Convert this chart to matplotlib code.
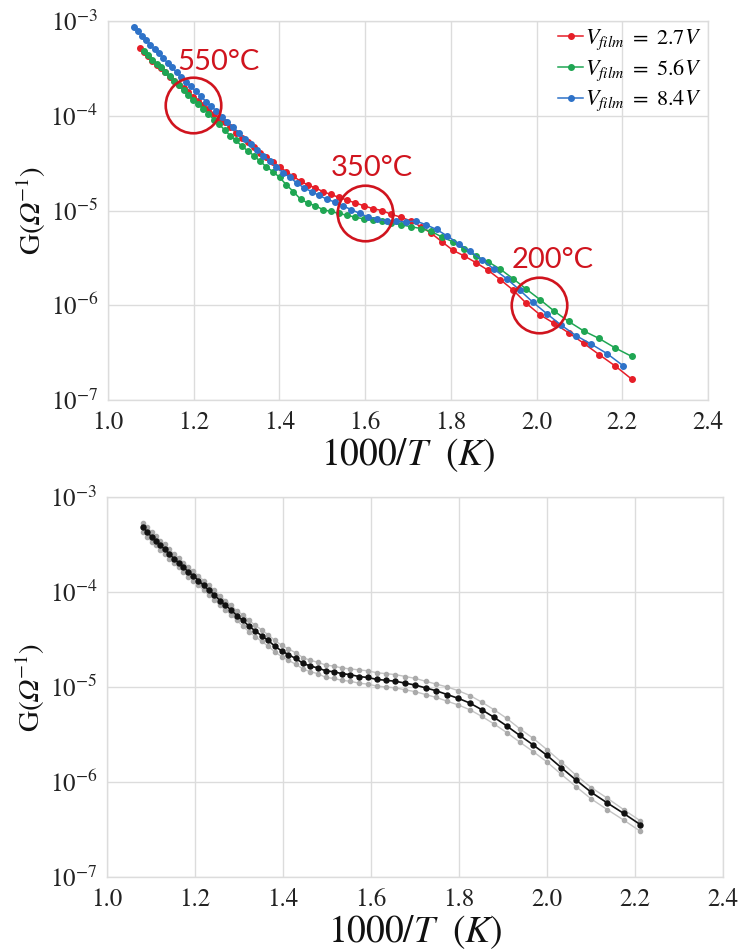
import numpy as np
import matplotlib
matplotlib.use("Agg")
import matplotlib.pyplot as plt
from matplotlib.ticker import LogLocator, LogFormatterMathtext, FixedLocator

plt.rcParams['font.family'] = ['STIXGeneral', 'DejaVu Serif']
plt.rcParams['mathtext.fontset'] = 'custom'
plt.rcParams['mathtext.rm'] = 'STIXGeneral'
plt.rcParams['mathtext.it'] = 'STIXGeneral:italic'
plt.rcParams['mathtext.bf'] = 'STIXGeneral:bold'
plt.rcParams['mathtext.cal'] = 'STIXGeneral:italic'

# temperatures (K) of the measurement points, G read as log10(G)
T_red = [930, 922, 914, 906, 898, 890, 882, 874, 866, 858, 850, 842, 834, 826, 818, 810,
         802, 794, 786, 778, 770, 762, 754, 746, 738, 730, 722, 714, 706, 698, 690, 682,
         674, 666, 658, 650, 642, 634, 626, 618, 610, 602, 594, 586, 578, 570, 562, 554,
         546, 538, 530, 522, 514, 506, 498, 490, 482, 474, 466, 458, 450]
logG_red = [-3.28, -3.33, -3.37, -3.42, -3.46, -3.50, -3.54, -3.59, -3.63, -3.67, -3.71, -3.75,
            -3.80, -3.84, -3.89, -3.93, -3.98, -4.03, -4.07, -4.12, -4.18, -4.23, -4.28, -4.33,
            -4.39, -4.44, -4.49, -4.54, -4.59, -4.64, -4.69, -4.73, -4.76, -4.80, -4.83, -4.86,
            -4.89, -4.92, -4.95, -4.98, -5.00, -5.04, -5.07, -5.11, -5.17, -5.24, -5.33, -5.42,
            -5.48, -5.55, -5.63, -5.73, -5.84, -5.98, -6.10, -6.19, -6.29, -6.40, -6.52, -6.64,
            -6.78]

T_green = [922, 914, 906, 898, 890, 882, 874, 866, 858, 850, 842, 834, 826, 818, 810,
           802, 794, 786, 778, 770, 762, 754, 746, 738, 730, 722, 714, 706, 698, 690, 682,
           674, 666, 658, 650, 642, 634, 626, 618, 610, 602, 594, 586, 578, 570, 562, 554,
           546, 538, 530, 522, 514, 506, 498, 490, 482, 474, 466, 458, 450]
logG_green = [-3.32, -3.36, -3.41, -3.45, -3.49, -3.54, -3.58, -3.63, -3.68, -3.73, -3.78,
              -3.83, -3.88, -3.93, -3.98, -4.04, -4.09, -4.15, -4.21, -4.26, -4.32, -4.37,
              -4.42, -4.48, -4.54, -4.59, -4.65, -4.73, -4.80, -4.88, -4.92, -4.95, -4.99,
              -5.01, -5.03, -5.05, -5.07, -5.09, -5.10, -5.11, -5.13, -5.15, -5.17, -5.19,
              -5.22, -5.28, -5.33, -5.41, -5.48, -5.54, -5.62, -5.72, -5.83, -5.94, -6.06,
              -6.17, -6.27, -6.35, -6.45, -6.54]

T_blue = [942, 934, 926, 918, 910, 902, 894, 886, 878, 870, 862, 854, 846, 838, 830, 822,
          814, 806, 798, 790, 782, 774, 766, 758, 750, 742, 734, 726, 718, 710, 702, 694,
          686, 678, 670, 662, 654, 646, 638, 630, 622, 614, 606, 598, 590, 582, 574, 566,
          558, 550, 542, 534, 526, 518, 510, 502, 494, 486, 478, 470, 462, 454]
logG_blue = [-3.06, -3.11, -3.16, -3.20, -3.25, -3.30, -3.34, -3.39, -3.44, -3.49, -3.54,
             -3.59, -3.64, -3.69, -3.74, -3.79, -3.85, -3.90, -3.95, -4.01, -4.07, -4.12,
             -4.18, -4.24, -4.30, -4.36, -4.42, -4.48, -4.54, -4.60, -4.65, -4.71, -4.76,
             -4.80, -4.84, -4.88, -4.91, -4.95, -4.99, -5.03, -5.07, -5.09, -5.11, -5.11,
             -5.12, -5.11, -5.15, -5.20, -5.27, -5.35, -5.43, -5.52, -5.62, -5.72, -5.84,
             -5.97, -6.09, -6.21, -6.32, -6.41, -6.51, -6.64]

labels = [r'$V_{film}\ =\ 2.7V$', r'$V_{film}\ =\ 5.6V$', r'$V_{film}\ =\ 8.4V$']
colors = ['#e61e28', '#1fa653', '#2e72c8']

# annotated temperatures: circle centre and label centre (x, log10 G)
notes = ['550°C', '350°C', '200°C']
note_x = [1.198, 1.60, 2.006]
note_logG = [-3.89, -5.03, -6.0]
text_x = [1.257, 1.616, 2.038]
text_logG = [-3.43, -4.55, -5.52]

# bottom panel: mean curve with upper/lower spread
T_avg = [924, 916, 908, 900, 892, 884, 876, 868, 860, 852, 844, 836, 828, 820, 812, 804,
         796, 788, 780, 772, 764, 756, 748, 740, 732, 724, 716, 708, 700, 692, 684, 676,
         668, 660, 652, 644, 636, 628, 620, 612, 604, 596, 588, 580, 572, 564, 556, 548,
         540, 532, 524, 516, 508, 500, 492, 484, 476, 468, 460, 452]
logG_avg = [-3.32, -3.37, -3.42, -3.46, -3.51, -3.55, -3.60, -3.65, -3.69, -3.74, -3.79,
            -3.83, -3.88, -3.93, -3.98, -4.03, -4.09, -4.14, -4.19, -4.25, -4.30, -4.36,
            -4.41, -4.46, -4.51, -4.57, -4.62, -4.66, -4.70, -4.75, -4.78, -4.80, -4.83,
            -4.84, -4.86, -4.87, -4.89, -4.90, -4.92, -4.93, -4.94, -4.96, -4.98, -5.01,
            -5.04, -5.08, -5.12, -5.17, -5.24, -5.32, -5.41, -5.51, -5.61, -5.72, -5.85,
            -5.98, -6.11, -6.22, -6.33, -6.45]
logG_hi = [-3.27, -3.32, -3.37, -3.41, -3.46, -3.50, -3.55, -3.60, -3.64, -3.69, -3.74,
           -3.78, -3.83, -3.88, -3.93, -3.98, -4.04, -4.09, -4.14, -4.20, -4.24, -4.30,
           -4.35, -4.40, -4.45, -4.51, -4.56, -4.60, -4.64, -4.69, -4.72, -4.74, -4.77,
           -4.78, -4.80, -4.81, -4.82, -4.83, -4.85, -4.86, -4.87, -4.89, -4.91, -4.94,
           -4.97, -5.00, -5.04, -5.09, -5.16, -5.24, -5.33, -5.44, -5.54, -5.66, -5.79,
           -5.93, -6.06, -6.17, -6.29, -6.41]
logG_lo = [-3.37, -3.42, -3.47, -3.51, -3.56, -3.60, -3.65, -3.70, -3.74, -3.79, -3.84,
           -3.88, -3.93, -3.98, -4.03, -4.08, -4.14, -4.19, -4.24, -4.30, -4.36, -4.42,
           -4.47, -4.52, -4.57, -4.63, -4.68, -4.72, -4.76, -4.81, -4.84, -4.86, -4.90,
           -4.91, -4.93, -4.94, -4.96, -4.97, -4.99, -5.00, -5.01, -5.03, -5.05, -5.08,
           -5.11, -5.15, -5.19, -5.24, -5.31, -5.39, -5.48, -5.58, -5.68, -5.79, -5.92,
           -6.05, -6.18, -6.29, -6.40, -6.52]

grid_c = '#dcdcdc'


def style_axes(ax, ylabel_x):
    ax.set_yscale('log')
    ax.set_xlim(1.0, 2.4)
    ax.set_ylim(1e-7, 1e-3)
    ax.xaxis.set_major_locator(FixedLocator([1.0, 1.2, 1.4, 1.6, 1.8, 2.0, 2.2, 2.4]))
    ax.set_xticklabels(['1.0', '1.2', '1.4', '1.6', '1.8', '2.0', '2.2', '2.4'])
    ax.yaxis.set_major_locator(LogLocator(base=10, numticks=10))
    ax.yaxis.set_major_formatter(LogFormatterMathtext())
    ax.yaxis.set_minor_locator(plt.NullLocator())
    ax.grid(True, color=grid_c, lw=1.0)
    ax.set_axisbelow(True)
    for s in ax.spines.values():
        s.set_color(grid_c)
        s.set_linewidth(1.0)
    ax.tick_params(length=0, labelsize=18, colors='#222222')
    ax.tick_params(axis='x', pad=8)
    ax.tick_params(axis='y', pad=7)
    ax.set_xlabel(r'$1000/T\ \ (K)$', fontsize=27, color='#111111')
    ax.xaxis.label.set_va('center')
    ax.xaxis.set_label_coords(0.5, -0.145)
    ax.set_ylabel(r'G($\mathcal{\Omega}^{-1}$)', fontsize=21, color='#111111')
    ax.yaxis.label.set_va('center')
    ax.yaxis.set_label_coords(ylabel_x, 0.5)


fig = plt.figure(figsize=(7.39, 9.52), dpi=100)
ax1 = fig.add_axes([0.1461, 0.5798, 0.8119, 0.3981])
ax2 = fig.add_axes([0.1448, 0.0788, 0.8336, 0.3992])

series = [(T_red, logG_red), (T_green, logG_green), (T_blue, logG_blue)]
for (T, lg), c, lab in zip(series, colors, labels):
    x = 1000.0 / np.array(T)
    ax1.plot(x, 10.0 ** np.array(lg), '-o', color=c, lw=1.1, ms=4, label=lab)

for txt, cx, cy, tx, ty in zip(notes, note_x, note_logG, text_x, text_logG):
    ax1.plot([cx], [10.0 ** cy], 'o', mfc='none', mec='#d0141e', ms=40, mew=1.9, zorder=5)
    ax1.text(tx, 10.0 ** ty, txt, color='#d0141e', fontsize=21, family='Lato',
             ha='center', va='center')

ax1.legend(loc='upper right', fontsize=16, frameon=False, handlelength=1.1,
           handletextpad=0.1, labelspacing=0.25, borderaxespad=0.1, borderpad=0.2)
style_axes(ax1, -0.128)

x_avg = 1000.0 / np.array(T_avg)
ax2.plot(x_avg, 10.0 ** np.array(logG_hi), '-o', color='#c4c4c4', mfc='#aaaaaa', mec='#aaaaaa',
         lw=1.0, ms=3.0)
ax2.plot(x_avg, 10.0 ** np.array(logG_lo), '-o', color='#c4c4c4', mfc='#aaaaaa', mec='#aaaaaa',
         lw=1.0, ms=3.0)
ax2.plot(x_avg, 10.0 ** np.array(logG_avg), '-o', color='#111111', lw=1.2, ms=3.6)
style_axes(ax2, -0.124)

fig.savefig('out.png', dpi=100)
